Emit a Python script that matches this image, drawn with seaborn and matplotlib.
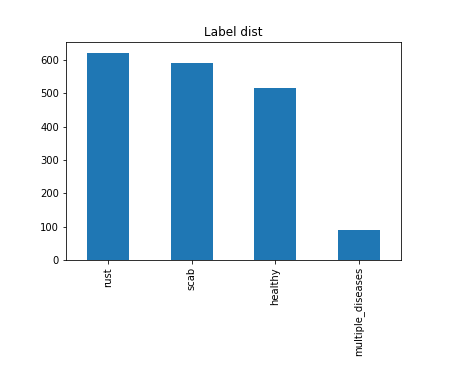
import matplotlib
matplotlib.use("Agg")
import matplotlib.pyplot as plt
import seaborn as sns
import pandas as pd

categories = ["rust", "scab", "healthy", "multiple_diseases"]
counts = [622, 592, 516, 91]

df = pd.DataFrame({"label": categories, "count": counts})

fig = plt.figure(figsize=(474 / 72, 376 / 72), dpi=72)
ax = fig.add_axes([66 / 474, 1 - 260 / 376, (401 - 66) / 474, (260 - 42.3) / 376])
sns.barplot(data=df, x="label", y="count", color="#1f77b4", saturation=1, width=0.5, ax=ax)
ax.set_xlim(-0.5, 3.5)
ax.set_ylim(0, 653)
ax.set_xlabel("")
ax.set_ylabel("")
ax.set_title("Label dist", fontsize=12)
ax.tick_params(axis="x", labelrotation=90)
for s in ax.spines.values():
    s.set_visible(True)
    s.set_color("black")
fig.savefig("out.png", dpi=72)
